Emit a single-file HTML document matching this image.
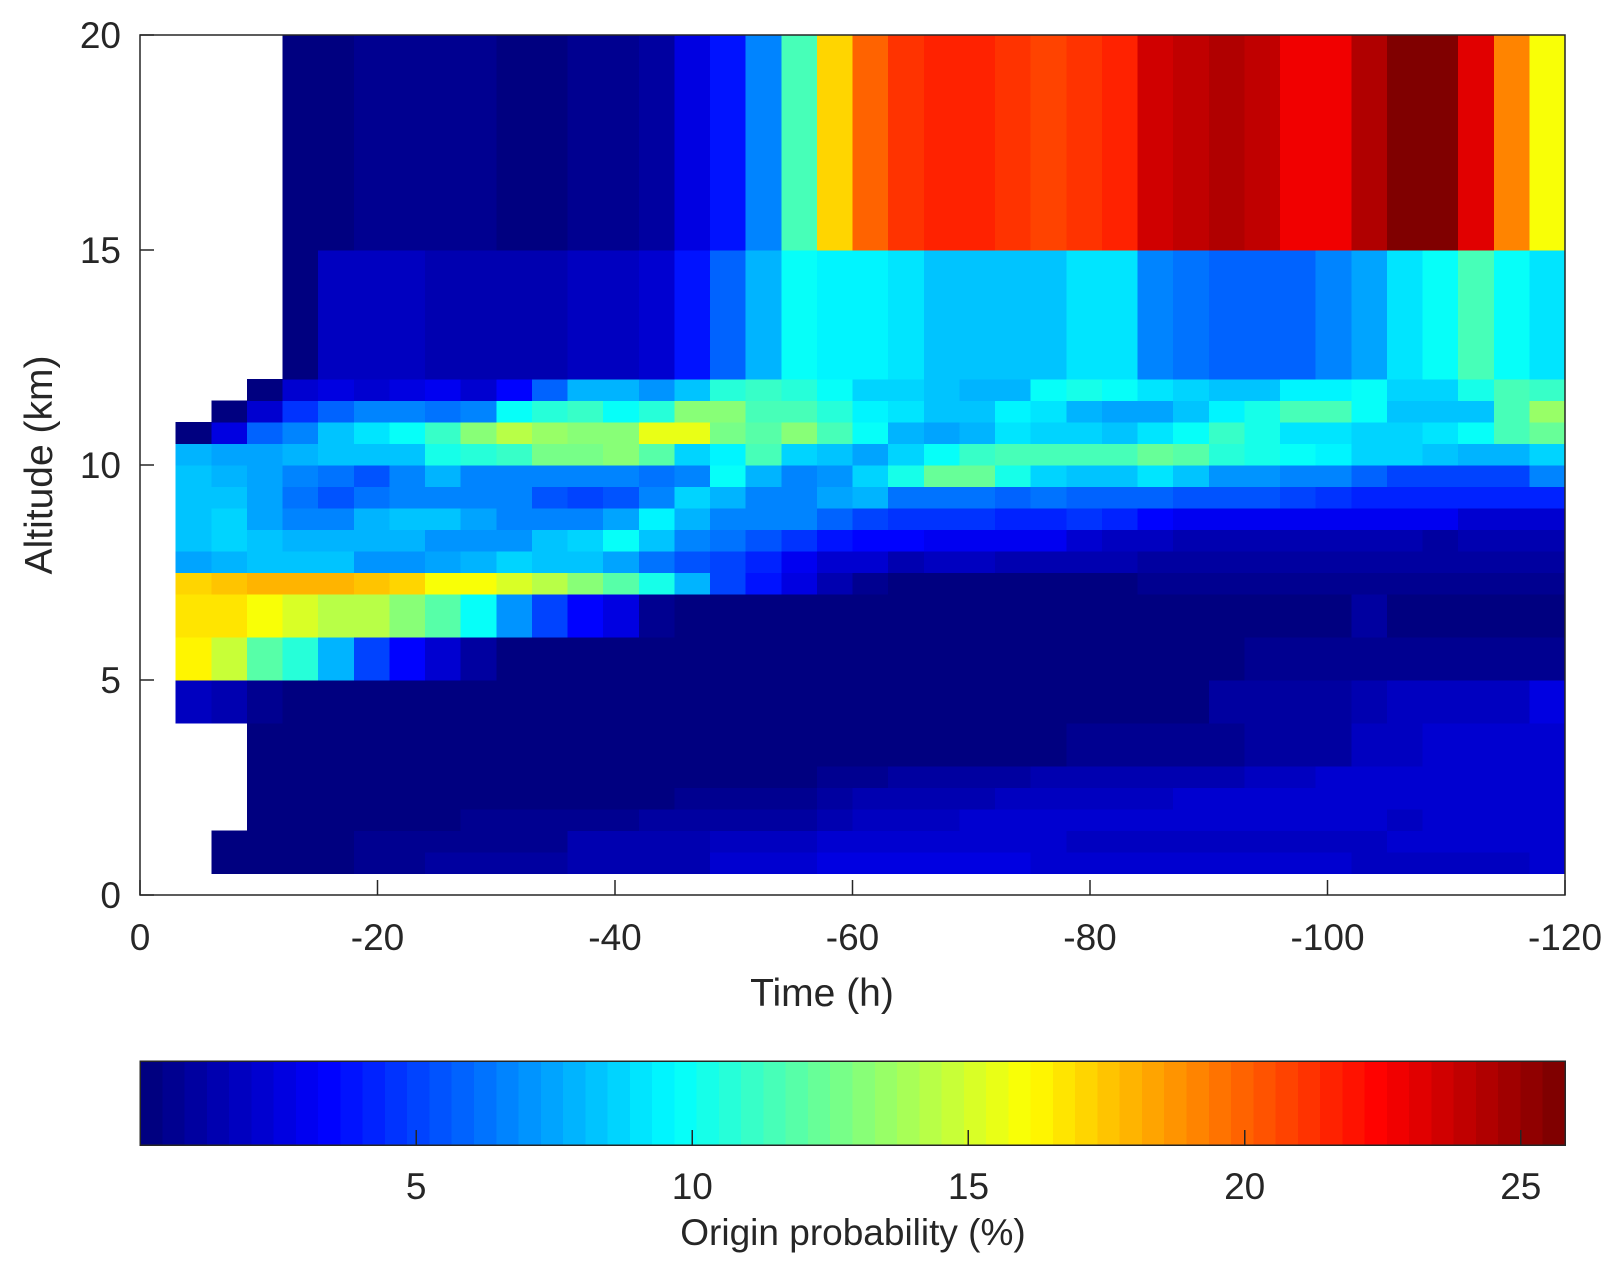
<!DOCTYPE html>
<html><head><meta charset="utf-8"><style>
html,body{margin:0;padding:0;background:#fff;}
svg{display:block;font-family:"Liberation Sans",Arial,sans-serif;}
</style></head><body>
<svg id="chart" width="1624" height="1267" viewBox="0 0 1624 1267" xmlns="http://www.w3.org/2000/svg">
<rect x="0" y="0" width="1624" height="1267" fill="#fff"/>
<g id="cells" shape-rendering="crispEdges"></g>
<g id="axes"></g>
<g id="cbar" shape-rendering="crispEdges"></g>
<text x="822" y="1006" font-size="39" fill="#262626" text-anchor="middle">Time (h)</text>
<text x="0" y="0" font-size="39" fill="#262626" text-anchor="middle" transform="translate(52,465) rotate(-90)">Altitude (km)</text>
<text x="853" y="1245" font-size="37" fill="#262626" text-anchor="middle">Origin probability (%)</text>
</svg>
<script>
// Time bins: 40 columns of 3 h, from 0 to -120 h
const timeEdgesStart = 0, timeStep = -3, nCols = 40;
// Altitude bin edges (km), bottom to top
const altEdges = [0.5,1,1.5,2,2.5,3,4,5,6,7,7.5,8,8.5,9,9.5,10,10.5,11,11.5,12,15,20];
const n = null;
// Values (%) per altitude row, bottom to top; columns 0..-120 h
const row0 = [n,n,0.3,0.3,0.3,0.3,0.5,0.5,1.0,1.0,1.0,1.0,1.6,1.6,1.6,1.6,2.2,2.2,2.2,2.6,2.6,2.6,2.6,2.6,2.6,2.2,2.2,2.2,2.2,2.2,2.2,2.2,2.2,2.2,1.8,1.8,1.8,1.8,1.8,2.2];
const row1 = [n,n,0.3,0.3,0.3,0.3,0.5,0.5,0.5,0.8,0.8,0.8,1.3,1.3,1.3,1.3,1.9,1.9,1.9,2.4,2.4,2.4,2.4,2.4,2.4,2.4,2.0,2.0,2.0,2.0,2.0,2.0,2.0,2.0,2.0,2.2,2.2,2.2,2.2,2.2];
const row2 = [n,n,n,0.3,0.3,0.3,0.3,0.3,0.3,0.7,0.7,0.7,0.7,0.7,0.9,0.9,0.9,1.1,1.1,1.6,2.0,2.0,2.0,2.4,2.4,2.4,2.4,2.4,2.4,2.4,2.4,2.2,2.2,2.2,2.2,1.9,2.2,2.2,2.2,2.2];
const row3 = [n,n,n,0.3,0.3,0.3,0.3,0.3,0.3,0.3,0.3,0.3,0.3,0.3,0.3,0.8,0.8,0.8,0.8,0.9,1.4,1.4,1.4,1.4,1.8,1.8,2.0,2.0,2.0,2.4,2.4,2.4,2.4,2.4,2.2,2.2,2.2,2.2,2.2,2.2];
const row4 = [n,n,n,0.2,0.2,0.2,0.2,0.2,0.2,0.2,0.2,0.2,0.2,0.2,0.2,0.2,0.2,0.2,0.2,0.7,0.7,0.9,0.9,0.9,0.9,1.3,1.3,1.3,1.6,1.6,1.6,1.9,1.9,2.4,2.4,2.4,2.4,2.4,2.4,2.4];
const row5 = [n,n,n,0.1,0.1,0.1,0.1,0.1,0.1,0.1,0.1,0.1,0.1,0.1,0.1,0.1,0.1,0.1,0.1,0.1,0.1,0.1,0.1,0.1,0.1,0.1,0.7,0.7,0.7,0.7,0.7,1.0,1.0,1.0,2.0,2.0,2.4,2.4,2.4,2.4];
const row6 = [n,1.9,1.6,0.8,0.2,0.2,0.2,0.2,0.2,0.2,0.2,0.2,0.2,0.2,0.2,0.2,0.2,0.2,0.2,0.2,0.2,0.2,0.2,0.2,0.2,0.2,0.2,0.2,0.2,0.2,1.0,1.0,1.0,1.0,1.6,1.9,1.9,1.9,1.9,2.5];
const row7 = [n,16.4,14.8,11.9,10.6,7.8,5.1,3.3,2.2,1.0,0.3,0.3,0.3,0.3,0.3,0.3,0.3,0.3,0.3,0.3,0.3,0.3,0.3,0.3,0.3,0.3,0.3,0.3,0.3,0.3,0.3,0.8,0.8,0.8,0.8,0.8,0.8,0.8,0.8,0.8];
const row8 = [n,16.7,16.7,16.1,15.2,14.5,14.5,13.2,11.9,10.0,7.1,5.1,3.4,2.6,0.7,0.2,0.2,0.2,0.2,0.2,0.1,0.1,0.1,0.1,0.1,0.1,0.1,0.1,0.4,0.4,0.4,0.4,0.4,0.4,1.0,0.4,0.4,0.4,0.4,0.4];
const row9 = [n,17.0,17.7,18.0,18.0,18.0,17.4,17.0,15.8,15.8,15.2,14.2,13.2,11.9,10.3,7.8,5.1,3.8,2.6,1.3,0.7,0.3,0.3,0.3,0.3,0.3,0.3,0.3,0.6,0.6,0.6,0.6,0.6,0.6,0.6,0.6,0.6,0.6,0.6,0.6];
const row10 = [n,7.4,7.8,8.4,8.4,8.1,7.1,7.1,7.4,7.9,8.8,8.4,8.1,7.4,6.1,5.5,5.1,4.2,2.9,2.2,2.2,1.6,1.9,1.9,1.3,1.6,1.6,1.6,1.0,1.0,1.0,1.0,1.0,1.0,1.0,1.0,1.0,1.0,1.0,1.0];
const row11 = [n,8.4,8.8,8.4,7.8,7.8,7.8,7.8,7.1,7.1,7.1,8.1,8.8,9.7,8.1,6.8,6.1,5.5,4.5,3.8,3.4,3.4,3.2,2.9,2.9,2.9,2.4,2.0,2.0,1.6,1.6,1.6,1.6,1.6,1.6,1.6,1.0,1.4,1.4,1.4];
const row12 = [n,8.4,8.8,7.4,6.8,6.8,7.8,8.1,8.4,7.4,6.45,6.8,6.8,7.4,9.4,7.8,6.8,6.8,6.45,5.8,5.1,4.8,4.5,4.5,4.2,4.2,4.5,4.2,3.3,2.9,2.9,3.2,3.2,3.2,3.2,3.2,2.9,2.2,2.2,2.2];
const row13 = [n,8.4,8.4,7.4,6.1,5.5,6.1,6.8,6.8,6.8,6.8,5.5,5.1,5.5,6.8,8.8,7.8,6.8,6.8,7.4,7.8,6.1,6.1,6.1,5.8,6.1,5.8,5.8,5.8,5.5,5.5,5.5,5.1,4.8,4.2,4.2,4.2,4.2,4.2,4.2];
const row14 = [n,8.4,7.9,7.4,6.45,6.1,5.5,6.8,7.8,6.45,6.45,6.45,6.45,6.45,6.1,6.8,9.9,7.8,6.45,7.1,8.8,10.3,12.3,12.3,10.3,8.8,8.4,8.4,8.9,8.1,7.1,7.1,6.8,6.45,5.8,5.1,5.1,5.1,5.1,6.45];
const row15 = [n,7.8,7.4,7.4,7.8,8.1,8.1,8.1,10.3,10.6,11.0,12.6,12.6,12.9,11.9,8.8,9.4,11.3,8.8,8.1,7.4,8.8,9.9,11.0,11.6,11.3,11.3,11.6,12.3,11.9,10.6,10.3,9.9,9.4,8.8,8.8,8.1,7.8,7.8,8.8];
const row16 = [n,0.2,2.5,5.8,6.8,8.1,9.1,9.9,11.0,12.9,14.2,13.5,12.9,12.9,15.5,15.5,12.6,11.9,12.9,11.6,9.7,7.8,7.4,7.8,9.1,8.8,8.8,8.1,9.1,9.9,11.0,10.3,8.9,8.9,8.6,8.6,9.1,9.9,11.3,12.3];
const row17 = [n,n,0.2,2.2,4.8,5.8,6.8,6.45,6.1,6.8,9.7,10.6,11.0,9.7,10.6,13.2,12.9,11.3,11.3,10.6,9.4,9.1,8.4,8.4,9.4,9.1,7.8,7.4,7.4,8.1,9.4,10.3,11.3,11.3,9.7,8.4,8.4,8.4,11.6,13.5];
const row18 = [n,n,n,0.2,2.2,2.5,2.2,2.5,3.2,2.2,3.3,5.8,7.8,7.8,7.1,8.1,10.6,11.0,10.6,9.9,8.8,8.8,8.4,7.8,7.8,9.7,10.3,9.7,9.1,8.8,8.4,8.4,9.4,9.4,9.7,8.8,8.8,10.3,11.6,11.0];
const row19 = [n,n,n,n,0.3,2.0,2.0,2.0,1.6,1.6,1.3,1.3,2.0,2.0,2.2,3.7,5.8,8.0,9.7,9.4,9.4,9.2,8.1,8.1,8.1,8.1,8.9,8.9,6.5,6.1,5.8,5.8,5.8,6.5,7.4,8.9,9.7,11.3,9.7,8.9];
const row20 = [n,n,n,n,0.3,0.3,0.8,0.6,0.6,0.6,0.2,0.2,0.7,0.8,0.9,2.5,3.7,6.8,11.6,17.0,20.0,21.3,21.7,21.4,21.0,20.6,21.0,21.7,23.4,23.9,24.3,23.9,22.6,22.6,24.3,25.8,25.8,23.0,19.0,15.8];
const rows = [row0,row1,row2,row3,row4,row5,row6,row7,row8,row9,row10,row11,row12,row13,row14,row15,row16,row17,row18,row19,row20];
const xTicks = [0,-20,-40,-60,-80,-100,-120];
const xTickLabels = ["0","-20","-40","-60","-80","-100","-120"];
const yTicks = [0,5,10,15,20];
const yTickLabels = ["0","5","10","15","20"];
const cTicks = [5,10,15,20,25];
const cTickLabels = ["5","10","15","20","25"];
const cMin = 0, cMax = 25.8, nColors = 64;

const NS = "http://www.w3.org/2000/svg";
const PX0 = 140, PX1 = 1565, PY0 = 35, PY1 = 895;
const CBY0 = 1061, CBY1 = 1145;
const xScale = t => PX0 + (t - 0) / (-120 - 0) * (PX1 - PX0);
const yScale = a => PY1 - (a - 0) / (20 - 0) * (PY1 - PY0);
const cScale = v => PX0 + (v - cMin) / (cMax - cMin) * (PX1 - PX0);
function clamp(v){return Math.max(0,Math.min(1,v));}
function jet(t){
  const r = clamp(1.5 - Math.abs(4*t - 3)), g = clamp(1.5 - Math.abs(4*t - 2)), b = clamp(1.5 - Math.abs(4*t - 1));
  return `rgb(${Math.round(r*255)},${Math.round(g*255)},${Math.round(b*255)})`;
}
function colorFor(v){
  let i = Math.floor((v - cMin) / (cMax - cMin) * nColors);
  i = Math.max(0, Math.min(nColors - 1, i));
  return jet(i / (nColors - 1));
}
function mk(tag, attrs, parent){
  const e = document.createElementNS(NS, tag);
  for (const k in attrs) e.setAttribute(k, attrs[k]);
  parent.appendChild(e); return e;
}
const cells = document.getElementById('cells');
rows.forEach((vals, r) => {
  const yTop = yScale(altEdges[r+1]), yBot = yScale(altEdges[r]);
  vals.forEach((v, c) => {
    if (v === null) return;
    const x0 = xScale(timeEdgesStart + c*timeStep), x1 = xScale(timeEdgesStart + (c+1)*timeStep);
    const el = mk('rect', {x: x0, y: yTop, width: x1 - x0 + 0.6, height: yBot - yTop + 0.6, fill: colorFor(v)}, cells);
    
    
  });
});
const axes = document.getElementById('axes');
const box = mk('rect', {x: PX0, y: PY0, width: PX1-PX0, height: PY1-PY0, fill: 'none', stroke: '#262626', 'stroke-width': 1.5}, axes);


xTicks.forEach((t, i) => {
  const x = xScale(t);
  const tk = mk('line', {x1: x, x2: x, y1: PY1, y2: PY1 - 15, stroke: '#262626', 'stroke-width': 1.5}, axes);
  
  
  const lb = mk('text', {x: x, y: 950, 'font-size': 37, fill: '#262626', 'text-anchor': 'middle'}, axes);
  lb.textContent = xTickLabels[i];
  
  
});
yTicks.forEach((a, i) => {
  const y = yScale(a);
  const tk = mk('line', {x1: PX0, x2: PX0 + 14, y1: y, y2: y, stroke: '#262626', 'stroke-width': 1.5}, axes);
  
  
  const lb = mk('text', {x: 121, y: y + 13, 'font-size': 37, fill: '#262626', 'text-anchor': 'end'}, axes);
  lb.textContent = yTickLabels[i];
  
  
});
const cbar = document.getElementById('cbar');
for (let i = 0; i < nColors; i++){
  const v0 = cMin + i*(cMax-cMin)/nColors, v1 = cMin + (i+1)*(cMax-cMin)/nColors;
  const x0 = cScale(v0), x1 = cScale(v1);
  const s = mk('rect', {x: x0, y: CBY0, width: x1 - x0 + 0.6, height: CBY1 - CBY0, fill: jet(i/(nColors-1))}, cbar);
  
  
}
const cbf = mk('rect', {x: PX0, y: CBY0, width: PX1-PX0, height: CBY1-CBY0, fill: 'none', stroke: '#262626', 'stroke-width': 1.5}, cbar);


cTicks.forEach((v, i) => {
  const x = cScale(v);
  const tk = mk('line', {x1: x, x2: x, y1: CBY1, y2: CBY1 - 15, stroke: '#262626', 'stroke-width': 1.5}, cbar);
  
  
  const lb = mk('text', {x: x, y: 1199, 'font-size': 37, fill: '#262626', 'text-anchor': 'middle'}, cbar);
  lb.textContent = cTickLabels[i];
  
  
});
</script>
</body></html>
